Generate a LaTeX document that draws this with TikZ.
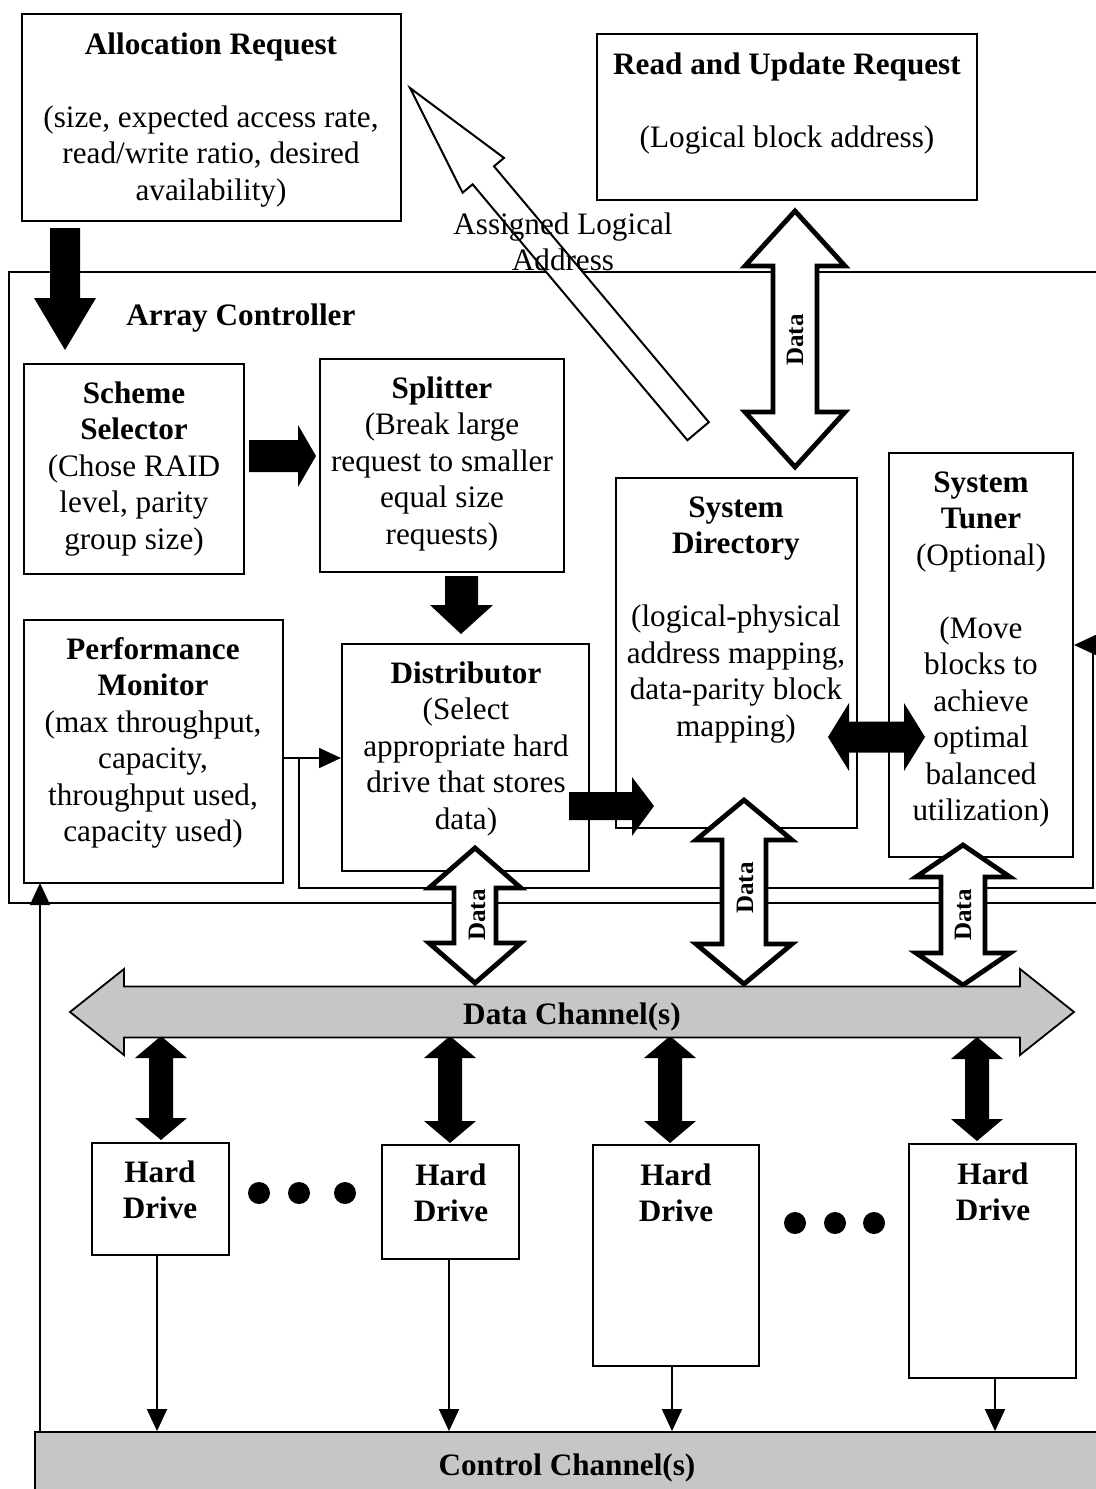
\documentclass[tikz,border=0pt]{standalone}
\usepackage{fontspec}
\setmainfont{Liberation Serif}
\usetikzlibrary{arrows.meta}

% centred multi-line label whose base is the first line's baseline
\newcommand\stack[1]{\begin{tabular}[t]{@{}c@{}}#1\end{tabular}}

% vertical double block arrow: style, centre x, top tip, bottom tip, head half width, shaft half width, head length
\newcommand\vdbl[7]{\path[#1] (#2,#3) -- ({#2+#5},{#3+#7}) -- ({#2+#6},{#3+#7}) -- ({#2+#6},{#4-#7}) -- ({#2+#5},{#4-#7}) -- (#2,#4) -- ({#2-#5},{#4-#7}) -- ({#2-#6},{#4-#7}) -- ({#2-#6},{#3+#7}) -- ({#2-#5},{#3+#7}) -- cycle;}
% horizontal double block arrow: style, centre y, left tip, right tip, head half width, shaft half width, head length
\newcommand\hdbl[7]{\path[#1] (#3,#2) -- ({#3+#7},{#2-#5}) -- ({#3+#7},{#2-#6}) -- ({#4-#7},{#2-#6}) -- ({#4-#7},{#2-#5}) -- (#4,#2) -- ({#4-#7},{#2+#5}) -- ({#4-#7},{#2+#6}) -- ({#3+#7},{#2+#6}) -- ({#3+#7},{#2+#5}) -- cycle;}

\tikzset{
  box/.style={draw, line width=1pt, fill=white, inner sep=0pt},
  txt/.style={font=\fontsize{15.6pt}{18.25pt}\selectfont, inner sep=0pt, anchor=base},
  datalbl/.style={font=\fontsize{12.5pt}{14pt}\selectfont\bfseries, inner sep=0pt, rotate=90},
  hollow/.style={draw, line width=2.4pt, fill=white, line join=miter, miter limit=20},
  blk/.style={fill=black},
  chan/.style={draw, line width=0.9pt, fill=gray!45},
  wire/.style={draw, line width=0.9pt, -{Triangle[length=11pt,width=10pt]}},
}

\begin{document}
\begin{tikzpicture}[x=0.5pt, y=-0.5pt]
\useasboundingbox (0,0) rectangle (1096,1489);
\clip (0,0) rectangle (1096,1489);

% ---------- boxes ----------
\node[draw, line width=1pt, inner sep=0pt, minimum width=550.5pt, minimum height=315.5pt] (ctrl) at (559.5,587.5) {};
\node[box, minimum width=189.5pt, minimum height=103.5pt] (alloc) at (211.5,117.5) {};
\node[box, minimum width=190pt, minimum height=83pt] (rur) at (787,117) {};
\node[box, minimum width=110pt, minimum height=105pt] (scheme) at (134,469) {};
\node[box, minimum width=122pt, minimum height=106.5pt] (split) at (442,465.5) {};
\node[box, minimum width=129.5pt, minimum height=131.5pt] (pm) at (153.5,751.5) {};
\node[box, minimum width=123.5pt, minimum height=113.5pt] (dist) at (465.5,757.5) {};
\node[box, minimum width=120.5pt, minimum height=175pt] (dir) at (736.5,653) {};
\node[box, minimum width=92pt, minimum height=202pt] (tuner) at (981,655) {};
\node[box, minimum width=68.5pt, minimum height=56pt] (hd1) at (160.5,1199) {};
\node[box, minimum width=68.5pt, minimum height=57pt] (hd2) at (450.5,1202) {};
\node[box, minimum width=83pt, minimum height=110.5pt] (hd3) at (676,1255.5) {};
\node[box, minimum width=83.5pt, minimum height=117pt] (hd4) at (992.5,1261) {};
\node[chan, inner sep=0pt, minimum width=537.5pt, minimum height=34pt] (cc) at (572.5,1466) {};

% ---------- thin connectors ----------
\coordinate (fork) at (299,758);
\coordinate (fbcorner) at (1093,888);
\coordinate (tunerin) at (1093,645);
\coordinate (pmin) at (40,883);
\coordinate (hd1out) at (157,1255);
\coordinate (hd2out) at (449,1259);
\coordinate (hd3out) at (672,1366);
\coordinate (hd4out) at (995,1378);
\draw[wire] (pm.east |- fork) -- (dist.west |- fork);
\draw[wire] (fork) |- (fbcorner) -- (tunerin) -- (tunerin -| tuner.east);
\draw[wire] (pmin |- cc.north) -- (pmin);
\draw[wire] (hd1out) -- (hd1out |- cc.north);
\draw[wire] (hd2out) -- (hd2out |- cc.north);
\draw[wire] (hd3out) -- (hd3out |- cc.north);
\draw[wire] (hd4out) -- (hd4out |- cc.north);

% ---------- hollow arrows ----------
% assigned logical address back to the requester
\path[hollow, line width=1pt] (410,88) -- (504,157.9) -- (494,166.3) -- (708.8,422.2) -- (687.4,440.2) -- (472.6,184.3) -- (462.6,192.7) -- cycle;
% data paths
\vdbl{hollow}{795}{211}{467}{50}{22}{55}
\vdbl{hollow}{475}{848}{983}{46}{21}{40}
\vdbl{hollow}{744}{800}{984}{48}{22}{40}
\vdbl{hollow}{963}{845}{985}{47}{22}{32}

% ---------- solid arrows ----------
\path[blk] (50,228) -- (80,228) -- (80,298) -- (96,298) -- (65,350) -- (34,298) -- (50,298) -- cycle;
\path[blk] (249,440) -- (298,440) -- (298,425) -- (316,456) -- (298,487) -- (298,472) -- (249,472) -- cycle;
\path[blk] (445,576) -- (478,576) -- (478,605) -- (493,605) -- (461,634) -- (430,605) -- (445,605) -- cycle;
\path[blk] (569,792) -- (632,792) -- (632,777) -- (654,806) -- (632,836) -- (632,820) -- (569,820) -- cycle;
\hdbl{blk}{737}{828}{925}{34}{15.5}{21}
\vdbl{blk}{161}{1036}{1140}{26}{12}{22}
\vdbl{blk}{450}{1036}{1143}{26}{12}{22}
\vdbl{blk}{670}{1036}{1143}{26}{12}{22}
\vdbl{blk}{977}{1037}{1141}{26}{12}{22}

% ---------- data channel ----------
\hdbl{chan}{1012}{70}{1074}{43}{25.5}{54}

% ---------- dots ----------
\fill (259,1193) circle[radius=11];
\fill (299,1193) circle[radius=11];
\fill (345,1193) circle[radius=11];
\fill (795,1223) circle[radius=11];
\fill (835,1223) circle[radius=11];
\fill (874,1223) circle[radius=11];

% ---------- texts ----------
\node[txt] (allocT) at (211,54) {\stack{\textbf{Allocation Request}\\ \\ (size, expected access rate,\\ read/write ratio, desired\\ availability)}};
\node[txt] (rurT) at (787,74) {\stack{\textbf{Read and Update Request}\\ \\ (Logical block address)}};
\node[txt] (assignT) at (563,234) {\stack{Assigned Logical\\ Address}};
\node[txt, anchor=base west] (ctrlT) at (126,325) {\textbf{Array Controller}};
\node[txt] (schemeT) at (134,403) {\stack{\textbf{Scheme}\\ \textbf{Selector}\\ (Chose RAID\\ level, parity\\ group size)}};
\node[txt] (splitT) at (442,398) {\stack{\textbf{Splitter}\\ (Break large\\ request to smaller\\ equal size\\ requests)}};
\node[txt] (pmT) at (153,659) {\stack{\textbf{Performance}\\ \textbf{Monitor}\\ (max throughput,\\ capacity,\\ throughput used,\\ capacity used)}};
\node[txt] (distT) at (466,683) {\stack{\textbf{Distributor}\\ (Select\\ appropriate hard\\ drive that stores\\ data)}};
\node[txt] (dirT) at (736,517) {\stack{\textbf{System}\\ \textbf{Directory}\\ \\ (logical-physical\\ address mapping,\\ data-parity block\\ mapping)}};
\node[txt] (tunerT) at (981,492) {\stack{\textbf{System}\\ \textbf{Tuner}\\ (Optional)\\ \\ (Move\\ blocks to\\ achieve\\ optimal\\ balanced\\ utilization)}};
\node[txt] (hd1T) at (160,1182) {\stack{\textbf{Hard}\\ \textbf{Drive}}};
\node[txt] (hd2T) at (451,1185) {\stack{\textbf{Hard}\\ \textbf{Drive}}};
\node[txt] (hd3T) at (676,1185) {\stack{\textbf{Hard}\\ \textbf{Drive}}};
\node[txt] (hd4T) at (993,1184) {\stack{\textbf{Hard}\\ \textbf{Drive}}};
\node[txt] (dcT) at (572,1024) {\textbf{Data Channel(s)}};
\node[txt] (ccT) at (567,1475) {\textbf{Control Channel(s)}};

\node[datalbl] (dl1) at (795,340) {Data};
\node[datalbl] (dl2) at (477,915) {Data};
\node[datalbl] (dl3) at (745,888) {Data};
\node[datalbl] (dl4) at (963,915) {Data};
\end{tikzpicture}
\end{document}
